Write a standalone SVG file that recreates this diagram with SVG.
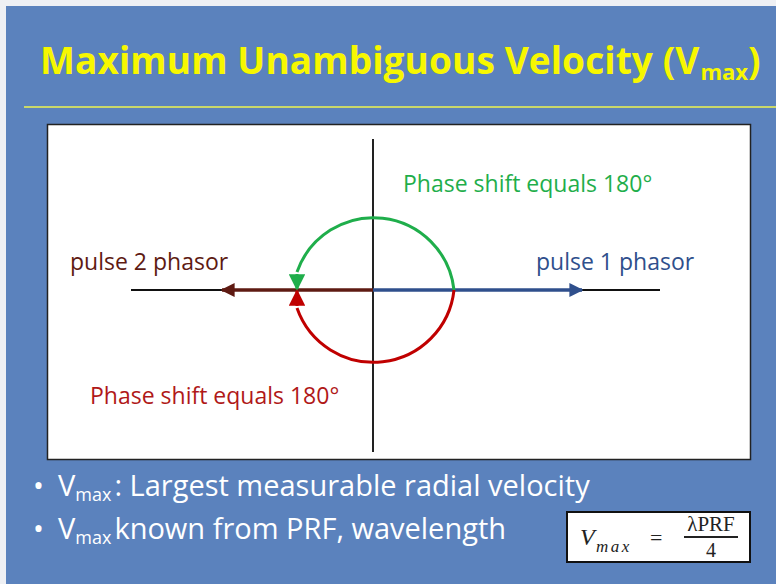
<svg xmlns="http://www.w3.org/2000/svg" width="776" height="584" viewBox="0 0 776 584">
<defs>
<style>
.t{font-family:"Open Sans","Noto Sans",sans-serif}
.lbl{font-size:23px}
.bul{font-size:29px;fill:#ffffff}
.sub{font-size:18px}
.ttl{font-weight:bold;fill:#f7f700}
.axis{stroke:#222;stroke-width:2;fill:none}
.ser{font-family:"Liberation Serif",serif;fill:#222}
</style>
<marker id="mBlue" viewBox="0 0 10 10" refX="9" refY="5" markerWidth="4" markerHeight="4" orient="auto" markerUnits="strokeWidth"><path d="M0,0L10,5L0,10z" fill="#2f4f8c"/></marker>
<marker id="mBrown" viewBox="0 0 10 10" refX="9" refY="5" markerWidth="4" markerHeight="4" orient="auto" markerUnits="strokeWidth"><path d="M0,0L10,5L0,10z" fill="#5e1a12"/></marker>
<marker id="mGreen" viewBox="0 0 10 10" refX="9" refY="5" markerWidth="5.5" markerHeight="5.5" orient="auto" markerUnits="strokeWidth"><path d="M0,0L10,5L0,10z" fill="#1fae4b"/></marker>
<marker id="mRed" viewBox="0 0 10 10" refX="9" refY="5" markerWidth="5.5" markerHeight="5.5" orient="auto" markerUnits="strokeWidth"><path d="M0,0L10,5L0,10z" fill="#c00000"/></marker>
</defs>
<rect x="0" y="0" width="776" height="584" fill="#eef0f4"/>
<rect x="6" y="6" width="770" height="578" fill="#5b82bd"/>
<g id="title">
<text class="t ttl" x="40" y="74" font-size="37" letter-spacing="0.1">Maximum Unambiguous Velocity (V<tspan font-size="22" dy="6" dx="1" letter-spacing="0">max</tspan><tspan dy="-6" letter-spacing="0">)</tspan></text>
</g>
<line x1="24" y1="107" x2="776" y2="107" stroke="#c9d86a" stroke-width="2"/>
<g id="panel">
<rect x="47.5" y="124.5" width="703" height="335" fill="#ffffff" stroke="#222" stroke-width="1.5"/>
</g>
<g id="connectors">
<line class="axis" x1="373" y1="139" x2="373" y2="452"/>
<line x1="131" y1="290" x2="660" y2="290" stroke="#111" stroke-width="2"/>
<line x1="373" y1="290" x2="582" y2="290" stroke="#2f4f8c" stroke-width="3.5" marker-end="url(#mBlue)"/>
<line x1="373" y1="290" x2="222" y2="290" stroke="#5e1a12" stroke-width="3.5" marker-end="url(#mBrown)"/>
<path d="M454,290 A81,81 0 0 0 297,272" stroke="#1fae4b" stroke-width="3" fill="none"/>
<path d="M297,274 L297,289" stroke="#1fae4b" stroke-width="3" fill="none" marker-end="url(#mGreen)"/>
<path d="M454,290 A81,81 0 0 1 297,308" stroke="#c00000" stroke-width="3" fill="none"/>
<path d="M297,306 L297,291" stroke="#c00000" stroke-width="3" fill="none" marker-end="url(#mRed)"/>
</g>
<g id="labels">
<text class="t lbl" x="403" y="192" fill="#1fae4b">Phase shift equals 180°</text>
<text class="t lbl" x="70" y="270" fill="#5e1a12">pulse 2 phasor</text>
<text class="t lbl" x="536" y="270" fill="#2f4f8c">pulse 1 phasor</text>
<text class="t lbl" x="90" y="404" fill="#b01818">Phase shift equals 180°</text>
</g>
<g id="bullets">
<text class="t bul" x="33" y="496">•</text>
<text class="t bul" x="58" y="496">V<tspan class="sub" dy="5">max</tspan><tspan dy="-5" dx="3">: Largest measurable radial velocity</tspan></text>
<text class="t bul" x="33" y="539">•</text>
<text class="t bul" x="58" y="539">V<tspan class="sub" dy="5">max</tspan><tspan dy="-5" dx="3">known from PRF, wavelength</tspan></text>
</g>
<g id="formula">
<rect x="567" y="512" width="183" height="50" fill="#ffffff" stroke="#111" stroke-width="2"/>
<text class="ser" x="580" y="545" font-style="italic" font-size="24">V</text>
<text class="ser" x="596" y="552" font-style="italic" font-size="17" letter-spacing="2.5">max</text>
<text class="ser" x="650" y="545" font-size="22">=</text>
<text class="ser" x="711" y="531" font-size="21" text-anchor="middle">λPRF</text>
<line x1="684" y1="537" x2="738" y2="537" stroke="#222" stroke-width="1.8"/>
<text class="ser" x="711" y="557" font-size="20" text-anchor="middle">4</text>
</g>
</svg>
